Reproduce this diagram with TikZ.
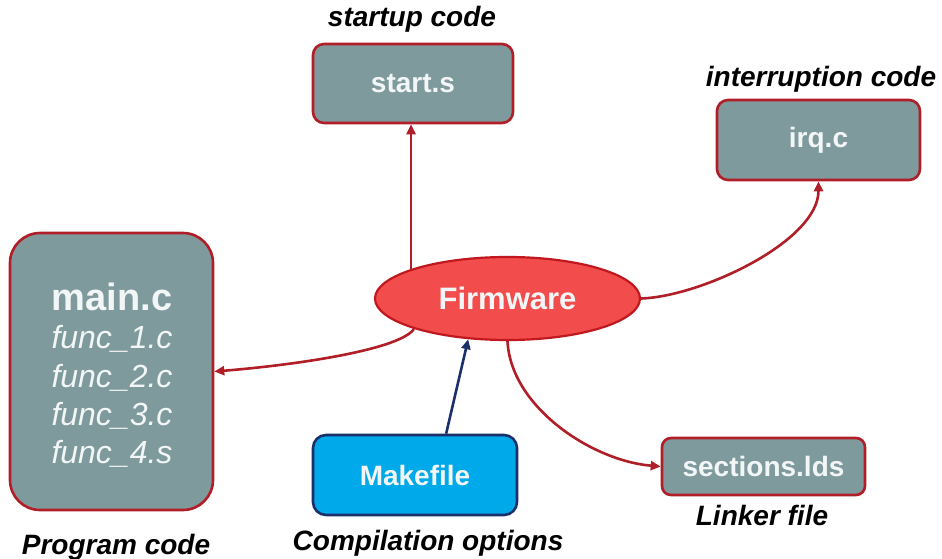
\documentclass[tikz,border=0pt]{standalone}
\usepackage{fontspec}
\setmainfont{Liberation Sans}
\usetikzlibrary{arrows.meta,shapes.geometric}
\definecolor{boxfill}{HTML}{7F9A9C}
\definecolor{boxline}{HTML}{B01E28}
\definecolor{fwfill}{HTML}{F24C4C}
\definecolor{fwline}{HTML}{C0181E}
\definecolor{mkfill}{HTML}{00A9EA}
\definecolor{mkline}{HTML}{1B2F6A}
\definecolor{txtw}{HTML}{F2F6F6}
\tikzset{
  filebox/.style={draw=boxline, line width=2.6pt, fill=boxfill, rounded corners=11pt, inner sep=0pt,
    text=txtw, font=\fontsize{28}{30}\selectfont\bfseries},
  caption/.style={font=\fontsize{28}{30}\selectfont\bfseries\itshape, text=black, anchor=base},
  redarr/.style={draw=boxline, line width=2.6pt, -{Triangle[length=10pt,width=9pt]}},
  bluearr/.style={draw=mkline, line width=2.6pt, -{Triangle[length=10pt,width=9pt]}},
  srcline/.style={font=\fontsize{32}{34}\selectfont\itshape, text=txtw, anchor=base}
}
\begin{document}
\begin{tikzpicture}[x=1pt,y=-1pt]
\useasboundingbox (0,0) rectangle (942,559);

% boxes
\node[filebox, minimum width=200pt, minimum height=79pt] (start) at (413,83.5) {start.s};
\node[filebox, minimum width=203pt, minimum height=80pt] (irq) at (818.5,140) {irq.c};
\node[filebox, minimum width=203pt, minimum height=277pt, rounded corners=30pt] (main) at (111.5,371.5) {};
\node[filebox, minimum width=203pt, minimum height=57pt, rounded corners=9pt] (sec) at (763.5,466.5) {sections.lds};
\node[draw=mkline, line width=2.6pt, fill=mkfill, rounded corners=13pt, inner sep=0pt,
  minimum width=204pt, minimum height=80pt, text=txtw, font=\fontsize{28}{30}\selectfont\bfseries] (make) at (415,475) {Makefile};
\node[ellipse, draw=fwline, line width=2.2pt, fill=fwfill, inner sep=0pt,
  minimum width=265pt, minimum height=83pt, text=txtw, font=\fontsize{31}{33}\selectfont\bfseries] (fw) at (507.5,298.5) {Firmware};

% program code text
\node[anchor=base, text=txtw, font=\fontsize{38}{40}\selectfont\bfseries] (mainc) at (112,310) {main.c};
\node[srcline] (f1) at (112,348) {func\_1.c};
\node[srcline] (f2) at (112,387) {func\_2.c};
\node[srcline] (f3) at (112,425) {func\_3.c};
\node[srcline] (f4) at (112,463) {func\_4.s};

% captions
\node[caption] (capstart) at (412,27) {startup code};
\node[caption] (capirq) at (821,87) {interruption code};
\node[caption] (capmain) at (116,554) {Program code};
\node[caption] (capmake) at (428,550) {Compilation options};
\node[caption] (capsec) at (762,525) {Linker file};

% connectors
\draw[redarr] (fw.163) -- (fw.163 |- start.south);
\draw[redarr] (fw.east) .. controls +(60,-2) and +(0,60) .. (irq.south);
\draw[redarr] (fw.198) .. controls +(-13,20) and +(87,-7) .. (main.east);
\draw[redarr] (fw.south) .. controls +(3,65) and +(-70,-6) .. (sec.west);
\draw[bluearr] (make.53) -- (fw.226);
\end{tikzpicture}
\end{document}
